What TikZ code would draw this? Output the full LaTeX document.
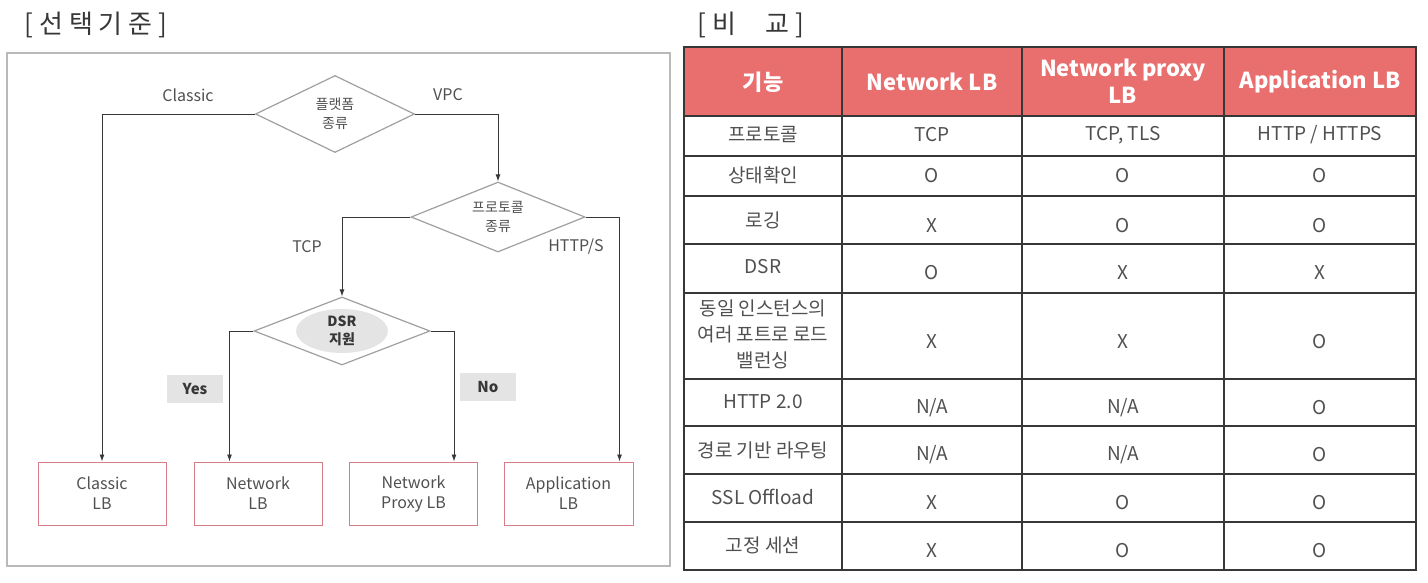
\documentclass[tikz,border=0pt]{standalone}
\usepackage{fontspec}
\setmainfont{Noto Sans CJK KR}
\usetikzlibrary{positioning}
\usetikzlibrary{shapes.geometric}
\usetikzlibrary{arrows.meta}

\definecolor{hdrRed}{RGB}{233,110,110}
\definecolor{txtGray}{RGB}{80,80,80}
\definecolor{boxRed}{RGB}{214,125,135}
\definecolor{lineGray}{RGB}{55,55,55}
\definecolor{panelGray}{RGB}{185,185,185}
\definecolor{shadeGray}{RGB}{228,228,228}

\tikzset{
	decision/.style={diamond, draw=gray!75, line width=1.2pt, inner sep=0pt, aspect=2, text=txtGray, align=center, font=\fontsize{14}{19}\selectfont},
	lbBox/.style={rectangle, draw=boxRed, line width=1pt, minimum width=128pt, minimum height=63pt, text=txtGray, align=center, font=\fontsize{16}{20}\selectfont},
	flowLine/.style={draw=lineGray, line width=0.9pt, -{Latex[length=7pt,width=5pt]}},
	edgeLabel/.style={text=txtGray, inner sep=0pt, font=\fontsize{16}{20}\selectfont},
	answerTag/.style={rectangle, fill=shadeGray, text=lineGray, minimum width=56pt, minimum height=28pt, font=\bfseries\fontsize{15}{18}\selectfont},
	hdrText/.style={text=white, inner sep=0pt, align=center, font=\bfseries\fontsize{22}{27}\selectfont},
	cellText/.style={text=txtGray, inner sep=0pt, align=center, font=\fontsize{19}{26}\selectfont},
	titleText/.style={text=lineGray, inner sep=0pt, font=\fontsize{26}{30}\selectfont}
}

\begin{document}
\begin{tikzpicture}[x=1pt,y=-1pt]
	\useasboundingbox (0,0) rectangle (1428,582);

	% left side: selection flow
	\node[titleText](selectTitle) at (96,25){[\hspace{6pt}선\hspace{6pt}택\hspace{6pt}기\hspace{6pt}준\hspace{6pt}]};
	\draw[panelGray, line width=1.2pt] (7,53) rectangle (670,566);

	\node[ellipse, fill=shadeGray, minimum width=92pt, minimum height=44pt](dsrShade) at (342,331){};

	\node[decision, minimum width=159pt, minimum height=77pt](platDiamond)  at (335,114){플랫폼\\종류};
	\node[decision, minimum width=174pt, minimum height=70pt](protoDiamond) at (498,217){프로토콜\\종류};
	\node[decision, minimum width=176pt, minimum height=68pt, text=lineGray, font=\bfseries\fontsize{14}{18}\selectfont](dsrDiamond) at (342,331){DSR\\지원};

	\node[lbBox](classicBox) at (102,493.5){Classic\\LB};
	\node[lbBox](networkBox) at (258,493.5){Network\\LB};
	\node[lbBox](proxyBox)   at (413.5,493.5){Network\\Proxy LB};
	\node[lbBox, minimum width=129pt](appBox) at (568.5,493.5){Application\\LB};

	\node[edgeLabel](classicLabel) at (188,95){Classic};
	\node[edgeLabel](vpcLabel)     at (448,95){VPC};
	\node[edgeLabel](tcpLabel)     at (307,247){TCP};
	\node[edgeLabel](httpLabel)    at (576,247){HTTP/S};
	\node[answerTag](yesTag) at (195,389){Yes};
	\node[answerTag](noTag)  at (488,387){No};

	\draw[flowLine] (platDiamond.west) -| (classicBox.north);
	\draw[flowLine] (platDiamond.east) -| (protoDiamond.north);
	\draw[flowLine] (protoDiamond.west) -| (dsrDiamond.north);
	\draw[flowLine] (protoDiamond.east) -| ([xshift=-14pt]appBox.north east);
	\draw[flowLine] (dsrDiamond.west) -| ([xshift=36pt]networkBox.north west);
	\draw[flowLine] (dsrDiamond.east) -| ([xshift=-24pt]proxyBox.north east);

	% right side: comparison table
	\node[titleText](compareTitle) at (751,25){[\hspace{6pt}비\hspace{30pt}교\hspace{6pt}]};
	\fill[hdrRed] (684,47) rectangle (1416,116);
	\draw[lineGray, line width=1.5pt] (684,47) rectangle (1416,570)
		(684,116) -- (1416,116) (684,156) -- (1416,156) (684,196) -- (1416,196)
		(684,244) -- (1416,244) (684,293) -- (1416,293) (684,379) -- (1416,379)
		(684,426) -- (1416,426) (684,474) -- (1416,474) (684,522) -- (1416,522)
		(842,47) -- (842,570) (1022,47) -- (1022,570) (1224,47) -- (1224,570);

	\node[hdrText](hdrFeature) at (763,82){기능};
	\node[hdrText](hdrNetwork) at (932,82){Network LB};
	\node[hdrText](hdrProxy)   at (1123,81){Network proxy\\LB};
	\node[hdrText](hdrApp)     at (1320,82){Application LB};

	\node[cellText](protoRow)   at (763,135){프로토콜};
	\node[cellText](protoNet)   at (932,135){TCP};
	\node[cellText](protoProxy) at (1123,135){TCP, TLS};
	\node[cellText](protoApp)   at (1320,135){HTTP / HTTPS};

	\node[cellText](healthRow)   at (763,175){상태확인};
	\node[cellText](healthNet)   at (932,176){O};
	\node[cellText](healthProxy) at (1123,176){O};
	\node[cellText](healthApp)   at (1320,176){O};

	\node[cellText](logRow)   at (763,220){로깅};
	\node[cellText](logNet)   at (932,226){X};
	\node[cellText](logProxy) at (1123,226){O};
	\node[cellText](logApp)   at (1320,226){O};

	\node[cellText](dsrRow)   at (763,267){DSR};
	\node[cellText](dsrNet)   at (932,273){O};
	\node[cellText](dsrProxy) at (1123,273){X};
	\node[cellText](dsrApp)   at (1320,273){X};

	\node[cellText](portRow)   at (763,334){동일 인스턴스의\\여러 포트로 로드\\밸런싱};
	\node[cellText](portNet)   at (932,342){X};
	\node[cellText](portProxy) at (1123,342){X};
	\node[cellText](portApp)   at (1320,342){O};

	\node[cellText](httpRow)   at (763,402){HTTP 2.0};
	\node[cellText](httpNet)   at (932,408){N/A};
	\node[cellText](httpProxy) at (1123,408){N/A};
	\node[cellText](httpApp)   at (1320,408){O};

	\node[cellText](pathRow)   at (763,450){경로 기반 라우팅};
	\node[cellText](pathNet)   at (932,455){N/A};
	\node[cellText](pathProxy) at (1123,455){N/A};
	\node[cellText](pathApp)   at (1320,455){O};

	\node[cellText](sslRow)   at (763,497){SSL Offload};
	\node[cellText](sslNet)   at (932,503){X};
	\node[cellText](sslProxy) at (1123,503){O};
	\node[cellText](sslApp)   at (1320,503){O};

	\node[cellText](stickyRow)   at (763,545){고정 세션};
	\node[cellText](stickyNet)   at (932,551){X};
	\node[cellText](stickyProxy) at (1123,551){O};
	\node[cellText](stickyApp)   at (1320,551){O};
\end{tikzpicture}
\end{document}
